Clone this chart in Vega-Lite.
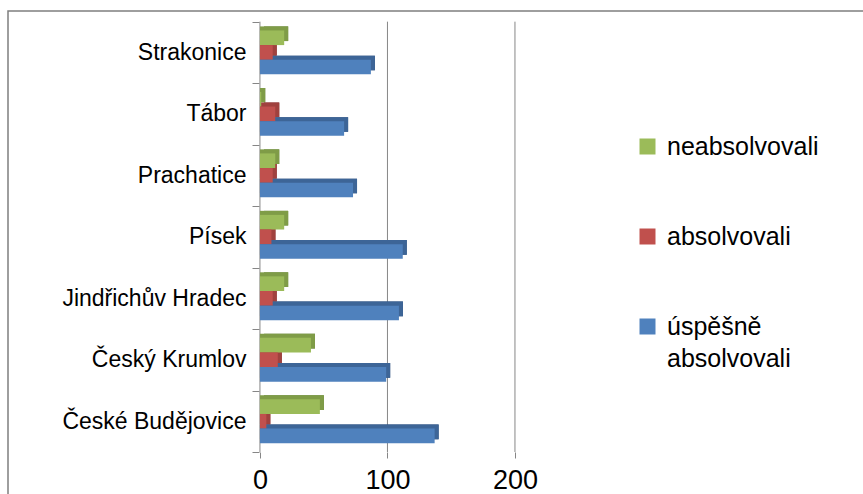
{
  "$schema": "https://vega.github.io/schema/vega-lite/v6.json",
  "width": 865,
  "height": 495,
  "autosize": {"type": "none"},
  "padding": {"left": 8, "top": 11, "right": -10, "bottom": -12},
  "background": "white",
  "config": {
    "view": {"stroke": "#7f7f7f", "strokeWidth": 1.5},
    "font": "Liberation Sans",
    "style": {"guide-label": {"lineHeight": 32}},
    "axisX": {"domain": false, "grid": false, "ticks": true, "tickSize": 6, "tickColor": "#868686", "labelFontSize": 27, "labelColor": "#000000", "labelPadding": 9, "offset": -54, "title": null, "labelFont": "Liberation Sans"},
    "axisY": {"domain": false, "grid": false, "ticks": true, "tickBand": "extent", "tickSize": 7, "tickColor": "#868686", "labelFontSize": 23, "labelColor": "#000000", "labelPadding": 6, "offset": -251, "title": null, "labelFont": "Liberation Sans", "labelLimit": 300}
  },
  "datasets": {
    "bars": [
      {"okres": "Strakonice", "kategorie": "neabsolvovali", "hodnota": 19},
      {"okres": "Strakonice", "kategorie": "absolvovali", "hodnota": 10},
      {"okres": "Strakonice", "kategorie": "úspěšně absolvovali", "hodnota": 87},
      {"okres": "Tábor", "kategorie": "neabsolvovali", "hodnota": 1},
      {"okres": "Tábor", "kategorie": "absolvovali", "hodnota": 12},
      {"okres": "Tábor", "kategorie": "úspěšně absolvovali", "hodnota": 66},
      {"okres": "Prachatice", "kategorie": "neabsolvovali", "hodnota": 12},
      {"okres": "Prachatice", "kategorie": "absolvovali", "hodnota": 10},
      {"okres": "Prachatice", "kategorie": "úspěšně absolvovali", "hodnota": 73},
      {"okres": "Písek", "kategorie": "neabsolvovali", "hodnota": 19},
      {"okres": "Písek", "kategorie": "absolvovali", "hodnota": 9},
      {"okres": "Písek", "kategorie": "úspěšně absolvovali", "hodnota": 112},
      {"okres": "Jindřichův Hradec", "kategorie": "neabsolvovali", "hodnota": 19},
      {"okres": "Jindřichův Hradec", "kategorie": "absolvovali", "hodnota": 10},
      {"okres": "Jindřichův Hradec", "kategorie": "úspěšně absolvovali", "hodnota": 109},
      {"okres": "Český Krumlov", "kategorie": "neabsolvovali", "hodnota": 40},
      {"okres": "Český Krumlov", "kategorie": "absolvovali", "hodnota": 14},
      {"okres": "Český Krumlov", "kategorie": "úspěšně absolvovali", "hodnota": 99},
      {"okres": "České Budějovice", "kategorie": "neabsolvovali", "hodnota": 47},
      {"okres": "České Budějovice", "kategorie": "absolvovali", "hodnota": 5},
      {"okres": "České Budějovice", "kategorie": "úspěšně absolvovali", "hodnota": 137}
    ],
    "grid": [{"t": 0}, {"t": 100}, {"t": 200}]
  },
  "resolve": {"scale": {"color": "independent", "yOffset": "independent"}, "legend": {"color": "independent"}},
  "layer": [
    {
      "data": {"name": "grid"},
      "mark": {"type": "rule", "color": "#868686", "strokeWidth": 1},
      "encoding": {
        "x": {"field": "t", "type": "quantitative", "scale": {"domain": [-197.6, 480.8], "nice": false, "zero": false}, "axis": {"values": [0, 100, 200]}},
        "y": {"datum": "Strakonice", "bandPosition": 0, "type": "nominal", "scale": {"domain": ["Strakonice", "Tábor", "Prachatice", "Písek", "Jindřichův Hradec", "Český Krumlov", "České Budějovice"], "paddingInner": 0, "paddingOuter": 0.526, "align": 0.165}},
        "y2": {"datum": "České Budějovice", "bandPosition": 1}
      }
    },
    {
      "data": {"name": "bars"},
      "mark": {"type": "bar", "xOffset": 4, "x2Offset": 4},
      "encoding": {
        "x": {"field": "hodnota", "type": "quantitative", "scale": {"domain": [-197.6, 480.8], "nice": false, "zero": false}, "axis": {"values": [0, 100, 200]}},
        "x2": {"datum": 0},
        "y": {"field": "okres", "type": "nominal", "scale": {"domain": ["Strakonice", "Tábor", "Prachatice", "Písek", "Jindřichův Hradec", "Český Krumlov", "České Budějovice"], "paddingInner": 0, "paddingOuter": 0.526, "align": 0.165}},
        "yOffset": {"field": "kategorie", "type": "nominal", "scale": {"domain": ["neabsolvovali", "absolvovali", "úspěšně absolvovali"], "paddingInner": 0, "paddingOuter": 0.6, "align": 0.27}},
        "color": {"field": "kategorie", "type": "nominal", "scale": {"domain": ["neabsolvovali", "absolvovali", "úspěšně absolvovali"], "range": ["#62803a", "#7c2d2b", "#2c4c74"]}, "legend": null}
      }
    },
    {
      "data": {"name": "bars"},
      "mark": {"type": "bar", "xOffset": 4},
      "encoding": {
        "x": {"field": "hodnota", "type": "quantitative", "scale": {"domain": [-197.6, 480.8], "nice": false, "zero": false}, "axis": {"values": [0, 100, 200]}},
        "x2": {"datum": 0},
        "y": {"field": "okres", "type": "nominal", "scale": {"domain": ["Strakonice", "Tábor", "Prachatice", "Písek", "Jindřichův Hradec", "Český Krumlov", "České Budějovice"], "paddingInner": 0, "paddingOuter": 0.526, "align": 0.165}},
        "yOffset": {"field": "kategorie", "type": "nominal", "scale": {"domain": ["neabsolvovali", "absolvovali", "úspěšně absolvovali"], "paddingInner": 0, "paddingOuter": 0.6, "align": 0.27}},
        "color": {"field": "kategorie", "type": "nominal", "scale": {"domain": ["neabsolvovali", "absolvovali", "úspěšně absolvovali"], "range": ["#7f9c47", "#a0413e", "#3d6597"]}, "legend": null}
      }
    },
    {
      "data": {"name": "bars"},
      "mark": {"type": "bar"},
      "encoding": {
        "x": {"field": "hodnota", "type": "quantitative", "scale": {"domain": [-197.6, 480.8], "nice": false, "zero": false}, "axis": {"values": [0, 100, 200]}},
        "x2": {"datum": 0},
        "y": {"field": "okres", "type": "nominal", "scale": {"domain": ["Strakonice", "Tábor", "Prachatice", "Písek", "Jindřichův Hradec", "Český Krumlov", "České Budějovice"], "paddingInner": 0, "paddingOuter": 0.526, "align": 0.165}},
        "yOffset": {"field": "kategorie", "type": "nominal", "scale": {"domain": ["neabsolvovali", "absolvovali", "úspěšně absolvovali"], "paddingInner": 0, "paddingOuter": 0.6}},
        "color": {"field": "kategorie", "type": "nominal", "scale": {"domain": ["neabsolvovali", "absolvovali", "úspěšně absolvovali"], "range": ["#9BBB59", "#C0504D", "#4F81BD"]},
          "legend": {"orient": "none", "legendX": 627, "legendY": 123, "title": null, "padding": 0, "symbolType": "square", "symbolSize": 256, "symbolStrokeWidth": 0, "labelFontSize": 25, "labelColor": "#000000", "labelOffset": 7, "rowPadding": 64, "labelLimit": 300,
            "labelExpr": "datum.label == 'úspěšně absolvovali' ? ['úspěšně', 'absolvovali'] : datum.label"}}
      }
    }
  ]
}
